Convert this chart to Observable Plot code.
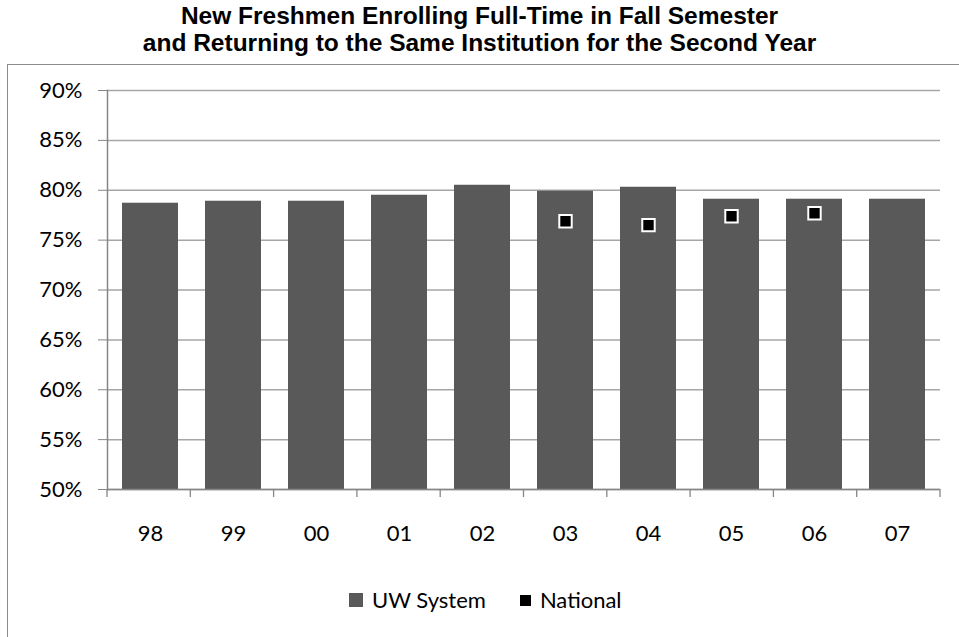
<!DOCTYPE html>
<html><head><meta charset="utf-8">
<script src="https://cdn.jsdelivr.net/npm/d3@7"></script>
<script src="https://cdn.jsdelivr.net/npm/@observablehq/plot@0.6"></script>
<style>
html,body{margin:0;padding:0;background:#fff;overflow:hidden;}
#wrap{position:relative;width:959px;height:637px;overflow:hidden;}
#title{position:absolute;left:0;top:2px;width:959px;text-align:center;font-family:"Liberation Sans",Arial,sans-serif;font-weight:bold;font-size:24.5px;line-height:27px;color:#000;white-space:nowrap;}
#border{position:absolute;left:7px;top:64px;width:1000px;height:1000px;border:1.5px solid #8c8c8c;box-sizing:border-box;}
#chart{position:absolute;left:0;top:0;}
#legend{position:absolute;left:349px;top:586px;display:flex;align-items:center;font-family:Lato,"Open Sans",sans-serif;font-size:22px;line-height:28px;color:#000;}
#legend .item{display:flex;align-items:center;margin-right:34px;}
#legend .sw{display:inline-block;margin-right:9px;}
</style></head>
<body><div id="wrap">
<div id="border"></div>
<div id="chart"></div>
<div id="title">New Freshmen Enrolling Full-Time in Fall Semester<br>and Returning to the Same Institution for the Second Year</div>
<div id="legend"></div>
</div>
<script>
const years = ["98","99","00","01","02","03","04","05","06","07"];
const uwSystem = [78.7, 78.9, 78.9, 79.5, 80.5, 79.9, 80.3, 79.1, 79.1, 79.1];
const national = [null, null, null, null, null, 76.9, 76.5, 77.4, 77.7, null];
const yTicks = [50, 55, 60, 65, 70, 75, 80, 85, 90];
const seriesNames = ["UW System", "National"];
const seriesColors = ["#595959", "#000000"];

const barData = years.map((y, i) => ({year: y, value: uwSystem[i]}));
const natData = years.map((y, i) => ({year: y, value: national[i]})).filter(d => d.value != null);

const W = 959, H = 637;
const labelFont = "Lato, 'Open Sans', sans-serif";

// Category boundary ticks below the x axis (Excel style)
function boundaryTicks(index, scales, values, dims) {
  const g = d3.create("svg:g");
  const n = years.length;
  const x0 = dims.marginLeft, x1 = dims.width - dims.marginRight;
  const step = (x1 - x0) / n;
  const yb = dims.height - dims.marginBottom;
  for (let i = 0; i <= n; i++) {
    g.append("line").attr("x1", x0 + i*step).attr("x2", x0 + i*step)
      .attr("y1", yb).attr("y2", yb + 8).attr("stroke", "#868686").attr("stroke-width", 1.3);
  }
  return g.node();
}

const plot = Plot.plot({
  width: W, height: H,
  marginLeft: 107, marginRight: 19, marginTop: 90, marginBottom: 148,
  style: {fontFamily: labelFont, fontSize: "22px", color: "#000", background: "transparent", overflow: "visible"},
  x: {type: "band", domain: years, paddingInner: 0.33, paddingOuter: 0.165, label: null},
  y: {domain: [yTicks[0], yTicks[yTicks.length-1]], label: null},
  marks: [
    Plot.ruleY(yTicks, {stroke: "#a6a6a6", strokeWidth: 1.5}),
    Plot.barY(barData, {x: "year", y1: yTicks[0], y2: "value", fill: seriesColors[0]}),
    Plot.ruleY([yTicks[0]], {stroke: "#868686", strokeWidth: 1.5}),
    Plot.axisY({ticks: yTicks, tickFormat: d => d + "%", tickSize: 9, tickPadding: 16, stroke: "#868686", fontSize: 22}),
    Plot.frame({anchor: "left", stroke: "#868686", strokeWidth: 1.5}),
    Plot.axisX({tickSize: 0, tickPadding: 36, fontSize: 22}),
    boundaryTicks,
    Plot.dot(natData, {x: "year", y: "value", symbol: "square", r: 7, fill: seriesColors[1], stroke: "#fff", strokeWidth: 2})
  ]
});
document.getElementById("chart").appendChild(plot);

const leg = document.getElementById("legend");
seriesNames.forEach((name, i) => {
  const item = document.createElement("span");
  item.className = "item";
  const sw = document.createElement("span");
  sw.className = "sw";
  const s = i === 0 ? 14 : 11;
  sw.style.width = s + "px"; sw.style.height = s + "px";
  sw.style.background = seriesColors[i];
  item.appendChild(sw);
  item.appendChild(document.createTextNode(name));
  leg.appendChild(item);
});
</script>
</body></html>
